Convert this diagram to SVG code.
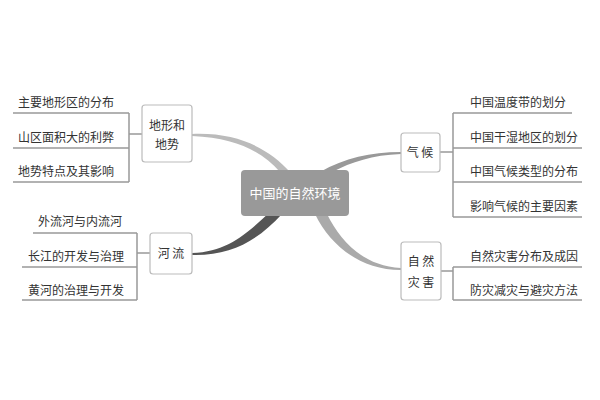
<svg xmlns="http://www.w3.org/2000/svg" width="600" height="400" viewBox="0 0 600 400">
<style>
text{font-family:"Noto Sans CJK SC","Liberation Sans",sans-serif;font-size:12px;fill:#333}
.box{fill:#fff;stroke:#bbb;stroke-width:1.2}
.ln{stroke:#999;stroke-width:1.5;fill:none}
</style>
<rect width="600" height="400" fill="#fff"/>
<g id="connectors">
<path d="M192,134 C240,132 270,150 290,172 L280,172 C262,152 238,138 192,136 Z" fill="#bbb"/>
<path d="M192,253 C230,252 250,230 270,212 L282,214 C258,240 232,256 192,255 Z" fill="#555"/>
<path d="M401,152 C370,152 345,158 320,172 L332,172 C352,162 372,155 401,154 Z" fill="#999"/>
<path d="M401,270 C360,270 330,245 315,214 L327,214 C340,240 362,266 401,268 Z" fill="#aaa"/>
<path class="ln" d="M13,113H129M13,148H129M13,182H129M129,113V182M129,134H142"/>
<path class="ln" d="M33,233H137M22,267H137M22,300H137M137,233V300M137,253H150"/>
<path class="ln" d="M453,113H572M453,148H582M453,182H582M453,217H582M453,113V217M440,152H453"/>
<path class="ln" d="M453,267H582M453,300H582M453,267V300M441,271H453"/>
</g>
<g id="center"><rect x="241" y="170" width="108" height="46" rx="4" fill="#999"/><text x="295" y="198" text-anchor="middle" style="fill:#fff;font-size:13px">中国的自然环境</text></g>
<g id="dixing"><rect class="box" x="142" y="105" width="50" height="57" rx="3"/><text x="167" y="130" text-anchor="middle">地形和</text><text x="167" y="149" text-anchor="middle">地势</text></g>
<g id="heliu"><rect class="box" x="150" y="233" width="42" height="41" rx="3"/><text x="171" y="258" text-anchor="middle">河 流</text></g>
<g id="qihou"><rect class="box" x="401" y="133" width="39" height="39" rx="3"/><text x="420" y="157" text-anchor="middle">气 候</text></g>
<g id="zaihai"><rect class="box" x="401" y="242" width="40" height="58" rx="3"/><text x="421" y="266" text-anchor="middle">自 然</text><text x="421" y="287" text-anchor="middle">灾 害</text></g>
<g id="left-items">
<text x="18" y="107">主要地形区的分布</text>
<text x="18" y="142">山区面积大的利弊</text>
<text x="18" y="176">地势特点及其影响</text>
<text x="38" y="226">外流河与内流河</text>
<text x="28" y="261">长江的开发与治理</text>
<text x="28" y="295">黄河的治理与开发</text>
</g>
<g id="right-items">
<text x="470" y="107">中国温度带的划分</text>
<text x="470" y="142">中国干湿地区的划分</text>
<text x="470" y="176">中国气候类型的分布</text>
<text x="470" y="211">影响气候的主要因素</text>
<text x="470" y="261">自然灾害分布及成因</text>
<text x="470" y="295">防灾减灾与避灾方法</text>
</g>
</svg>
